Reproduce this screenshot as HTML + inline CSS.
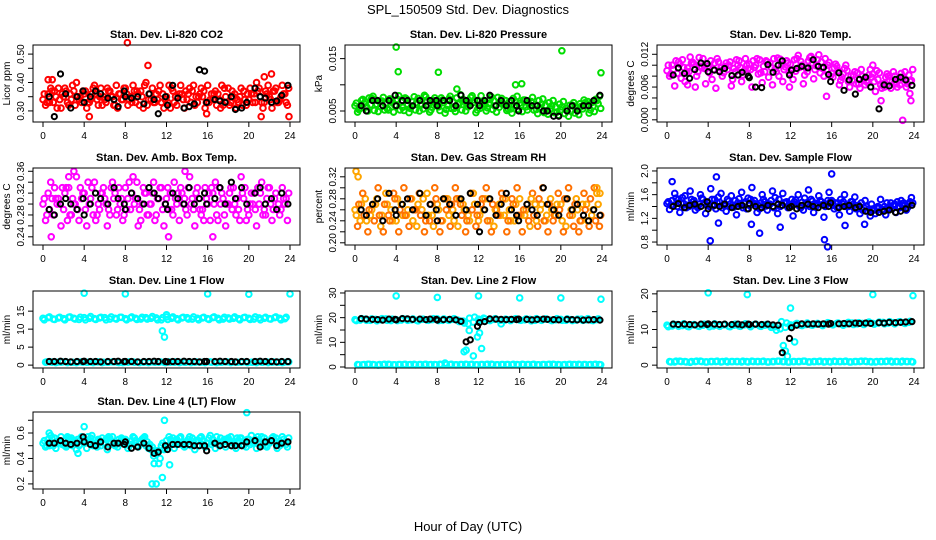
<!DOCTYPE html>
<html><head><meta charset="utf-8"><style>
body{margin:0;background:#fff;}
svg{display:block;font-family:"Liberation Sans",Arial,sans-serif;}
</style></head><body>
<svg id="chart" width="936" height="540" viewBox="0 0 936 540" xmlns="http://www.w3.org/2000/svg">
<rect width="936" height="540" fill="#fff"/>
<text x="468" y="14" text-anchor="middle" font-size="13">SPL_150509  Std. Dev. Diagnostics</text>
<text x="468" y="531" text-anchor="middle" font-size="13">Hour of Day (UTC)</text>
</svg>
<script>
const hoursA=[0,0.5,1,1.5,2,2.5,3,3.5,4,4.5,5,5.5,6,6.5,7,7.5,8,8.5,9,9.5,10,10.5,11,11.5,12,12.5,13,13.5,14,14.5,15,15.5,16,16.5,17,17.5,18,18.5,19,19.5,20,20.5,21,21.5,22,22.5,23,23.5];
const hoursB=[0.25,0.75,1.25,1.75,2.25,2.75,3.25,3.75,4.25,4.75,5.25,5.75,6.25,6.75,7.25,7.75,8.25,8.75,9.25,9.75,10.25,10.75,11.25,11.75,12.25,12.75,13.25,13.75,14.25,14.75,15.25,15.75,16.25,16.75,17.25,17.75,18.25,18.75,19.25,19.75,20.25,20.75,21.25,21.75,22.25,22.75,23.25,23.75];
const hoursC=[0.125,0.625,1.125,1.625,2.125,2.625,3.125,3.625,4.125,4.625,5.125,5.625,6.125,6.625,7.125,7.625,8.125,8.625,9.125,9.625,10.125,10.625,11.125,11.625,12.125,12.625,13.125,13.625,14.125,14.625,15.125,15.625,16.125,16.625,17.125,17.625,18.125,18.625,19.125,19.625,20.125,20.625,21.125,21.625,22.125,22.625,23.125,23.625];
const hoursD=[0.375,0.875,1.375,1.875,2.375,2.875,3.375,3.875,4.375,4.875,5.375,5.875,6.375,6.875,7.375,7.875,8.375,8.875,9.375,9.875,10.375,10.875,11.375,11.875,12.375,12.875,13.375,13.875,14.375,14.875,15.375,15.875,16.375,16.875,17.375,17.875,18.375,18.875,19.375,19.875,20.375,20.875,21.375,21.875,22.375,22.875,23.375,23.875];
const blackHours=[0.6,1.1,1.7,2.2,2.7,3.3,3.9,4.0,4.6,5.1,5.6,6.3,6.9,7.3,7.9,8.0,8.6,9.2,9.8,10.3,10.8,11.2,11.9,12.1,12.6,13.1,13.7,14.2,14.7,15.2,15.7,15.9,16.7,17.2,17.7,18.3,18.7,19.3,19.8,20.6,21.1,21.6,22.2,22.7,23.2,23.8];
const xTicks=[0,4,8,12,16,20,24];

// Panel 1: CO2
const co2A=[0.34,0.36,0.33,0.38,0.35,0.32,0.37,0.34,0.36,0.33,0.39,0.35,0.34,0.37,0.32,0.36,0.38,0.35,0.33,0.37,0.40,0.34,0.36,0.33,0.35,0.38,0.32,0.36,0.34,0.37,0.33,0.35,0.39,0.34,0.36,0.32,0.38,0.35,0.33,0.37,0.34,0.36,0.38,0.33,0.35,0.37,0.34,0.36];
const co2B=[0.32,0.38,0.35,0.31,0.37,0.34,0.40,0.33,0.31,0.36,0.34,0.32,0.38,0.35,0.31,0.34,0.32,0.39,0.36,0.31,0.34,0.33,0.37,0.31,0.39,0.33,0.36,0.31,0.38,0.32,0.36,0.31,0.34,0.37,0.31,0.35,0.33,0.31,0.38,0.32,0.36,0.40,0.33,0.36,0.31,0.33,0.39,0.32];
const co2C=[0.36,0.33,0.37,0.34,0.38,0.36,0.32,0.35,0.37,0.34,0.36,0.38,0.33,0.35,0.39,0.34,0.36,0.33,0.37,0.35,0.32,0.38,0.34,0.36,0.33,0.37,0.35,0.34,0.36,0.39,0.35,0.37,0.33,0.36,0.34,0.38,0.32,0.36,0.35,0.34,0.38,0.33,0.35,0.37,0.34,0.38,0.35,0.33];
const co2D=[0.33,0.37,0.31,0.36,0.33,0.39,0.35,0.37,0.33,0.38,0.32,0.35,0.37,0.32,0.36,0.38,0.34,0.37,0.32,0.39,0.36,0.33,0.39,0.34,0.31,0.35,0.39,0.37,0.33,0.35,0.38,0.33,0.36,0.32,0.39,0.33,0.37,0.34,0.32,0.36,0.33,0.37,0.31,0.39,0.37,0.33,0.36,0.38];
const co2XH=[8.2,10.2,21.2,21.5,22.2,23.9,4.5,15.9,0.5,0.9];
const co2XV=[0.54,0.46,0.28,0.42,0.43,0.28,0.28,0.29,0.41,0.41];
const co2K=[0.35,0.28,0.43,0.36,0.31,0.35,0.37,0.33,0.35,0.37,0.36,0.345,0.34,0.315,0.37,0.35,0.345,0.35,0.325,0.36,0.34,0.29,0.35,0.32,0.39,0.345,0.31,0.315,0.325,0.445,0.44,0.33,0.34,0.335,0.33,0.35,0.305,0.31,0.33,0.38,0.35,0.345,0.33,0.335,0.355,0.39];
const co2Ticks=[0.30,0.35,0.40,0.45,0.50];
const co2Labels=["0.30","","0.40","","0.50"];

// Panel 2: Pressure
const prA=[0.0060,0.0055,0.0068,0.0062,0.0071,0.0058,0.0065,0.0070,0.0061,0.0067,0.0073,0.0059,0.0066,0.0062,0.0069,0.0057,0.0064,0.0071,0.0060,0.0068,0.0063,0.0072,0.0058,0.0066,0.0061,0.0069,0.0064,0.0070,0.0057,0.0063,0.0068,0.0060,0.0065,0.0071,0.0059,0.0062,0.0056,0.0061,0.0054,0.0058,0.0052,0.0055,0.0050,0.0056,0.0059,0.0062,0.0066,0.0070];
const prB=[0.0048,0.0072,0.0050,0.0078,0.0049,0.0076,0.0052,0.0048,0.0079,0.0051,0.0047,0.0077,0.0050,0.0080,0.0048,0.0075,0.0051,0.0046,0.0078,0.0049,0.0081,0.0050,0.0076,0.0047,0.0079,0.0050,0.0077,0.0048,0.0074,0.0051,0.0046,0.0078,0.0049,0.0052,0.0076,0.0045,0.0073,0.0044,0.0070,0.0042,0.0068,0.0040,0.0066,0.0043,0.0071,0.0046,0.0049,0.0078];
const prC=[0.0065,0.0070,0.0058,0.0074,0.0063,0.0069,0.0055,0.0066,0.0072,0.0057,0.0063,0.0068,0.0074,0.0054,0.0061,0.0070,0.0058,0.0066,0.0073,0.0055,0.0064,0.0069,0.0062,0.0071,0.0055,0.0063,0.0072,0.0059,0.0066,0.0070,0.0054,0.0067,0.0061,0.0058,0.0068,0.0053,0.0063,0.0050,0.0060,0.0048,0.0058,0.0050,0.0061,0.0052,0.0054,0.0068,0.0059,0.0064];
const prD=[0.0053,0.0064,0.0075,0.0051,0.0068,0.0052,0.0073,0.0061,0.0052,0.0075,0.0055,0.0052,0.0061,0.0077,0.0052,0.0062,0.0075,0.0053,0.0055,0.0075,0.0052,0.0060,0.0079,0.0052,0.0066,0.0056,0.0053,0.0076,0.0062,0.0054,0.0074,0.0053,0.0071,0.0064,0.0052,0.0070,0.0047,0.0066,0.0047,0.0063,0.0045,0.0061,0.0046,0.0064,0.0066,0.0052,0.0072,0.0055];
const prXH=[4.0,4.2,8.1,9.9,15.6,16.2,20.1,23.9];
const prXV=[0.0172,0.0125,0.0124,0.0092,0.0100,0.0102,0.0165,0.0123];
const prK=[0.006,0.005,0.007,0.007,0.006,0.007,0.008,0.006,0.007,0.007,0.006,0.007,0.006,0.007,0.007,0.006,0.007,0.007,0.006,0.008,0.007,0.006,0.007,0.006,0.007,0.008,0.006,0.007,0.006,0.007,0.006,0.005,0.007,0.006,0.006,0.005,0.005,0.004,0.004,0.005,0.006,0.005,0.006,0.006,0.007,0.008];
const prTicks=[0.005,0.010,0.015];
const prLabels=["0.005","","0.015"];

// Panel 3: Li-820 Temp
const tmA=[0.0090,0.0100,0.0085,0.0110,0.0095,0.0105,0.0088,0.0112,0.0098,0.0092,0.0106,0.0086,0.0100,0.0094,0.0108,0.0090,0.0102,0.0096,0.0110,0.0088,0.0104,0.0093,0.0111,0.0097,0.0102,0.0089,0.0107,0.0095,0.0116,0.0099,0.0106,0.0092,0.0085,0.0098,0.0078,0.0090,0.0072,0.0086,0.0080,0.0068,0.0084,0.0074,0.0066,0.0080,0.0088,0.0072,0.0078,0.0082];
const tmB=[0.0080,0.0062,0.0102,0.0070,0.0115,0.0060,0.0098,0.0066,0.0108,0.0058,0.0095,0.0104,0.0062,0.0110,0.0070,0.0100,0.0060,0.0112,0.0068,0.0106,0.0064,0.0113,0.0070,0.0104,0.0074,0.0118,0.0066,0.0108,0.0075,0.0119,0.0080,0.0105,0.0095,0.0064,0.0094,0.0060,0.0088,0.0058,0.0064,0.0092,0.0052,0.0064,0.0078,0.0058,0.0066,0.0085,0.0060,0.0072];
const tmC=[0.0100,0.0092,0.0106,0.0096,0.0088,0.0102,0.0114,0.0094,0.0086,0.0104,0.0090,0.0098,0.0106,0.0088,0.0096,0.0112,0.0092,0.0100,0.0086,0.0108,0.0096,0.0088,0.0100,0.0108,0.0090,0.0112,0.0100,0.0088,0.0104,0.0110,0.0094,0.0100,0.0078,0.0090,0.0084,0.0070,0.0082,0.0066,0.0074,0.0082,0.0070,0.0086,0.0060,0.0072,0.0080,0.0064,0.0088,0.0070];
const tmD=[0.0084,0.0108,0.0076,0.0088,0.0104,0.0080,0.0096,0.0102,0.0074,0.0112,0.0080,0.0092,0.0074,0.0100,0.0082,0.0094,0.0108,0.0084,0.0098,0.0078,0.0112,0.0080,0.0092,0.0086,0.0110,0.0096,0.0082,0.0114,0.0092,0.0086,0.0112,0.0080,0.0102,0.0072,0.0100,0.0080,0.0066,0.0092,0.0070,0.0078,0.0090,0.0058,0.0084,0.0070,0.0060,0.0076,0.0066,0.0092];
const tmXH=[15.5,20.0,20.8,22.9,23.6,23.7,2.0,11.9];
const tmXV=[0.0043,0.0100,0.0035,-0.0001,0.0048,0.0035,0.0064,0.0060];
const tmK=[0.0082,0.0095,0.0085,0.0076,0.0092,0.0104,0.0103,0.0088,0.0091,0.0088,0.0094,0.0081,0.0082,0.0087,0.0080,0.0077,0.0060,0.0059,0.0101,0.0087,0.0100,0.0108,0.0082,0.0091,0.0094,0.0098,0.0095,0.0110,0.0098,0.0096,0.0083,0.0070,0.0086,0.0054,0.0073,0.0047,0.0074,0.0078,0.0060,0.0020,0.0064,0.0062,0.0074,0.0078,0.0073,0.0063];
const tmTicks=[0,0.002,0.004,0.006,0.008,0.010,0.012];
const tmLabels=["0.000","","","0.006","","","0.012"];

// Panel 4: Amb box temp
const abA=[0.30,0.32,0.28,0.31,0.29,0.33,0.30,0.27,0.32,0.30,0.34,0.29,0.31,0.28,0.32,0.30,0.33,0.29,0.31,0.27,0.32,0.30,0.28,0.33,0.31,0.29,0.30,0.32,0.28,0.31,0.33,0.29,0.30,0.32,0.27,0.31,0.30,0.33,0.29,0.31,0.28,0.32,0.30,0.29,0.33,0.31,0.28,0.30];
const abB=[0.27,0.34,0.31,0.26,0.33,0.28,0.35,0.31,0.26,0.33,0.28,0.32,0.26,0.34,0.29,0.27,0.31,0.35,0.26,0.33,0.28,0.34,0.31,0.26,0.29,0.34,0.27,0.31,0.35,0.26,0.29,0.33,0.27,0.34,0.30,0.26,0.33,0.28,0.35,0.27,0.32,0.26,0.34,0.31,0.27,0.29,0.33,0.27];
const abC=[0.31,0.29,0.33,0.30,0.32,0.28,0.30,0.33,0.29,0.31,0.27,0.32,0.30,0.33,0.28,0.31,0.29,0.32,0.34,0.30,0.28,0.32,0.31,0.29,0.33,0.28,0.32,0.30,0.33,0.29,0.31,0.27,0.32,0.30,0.33,0.28,0.32,0.30,0.27,0.33,0.30,0.29,0.32,0.28,0.30,0.32,0.29,0.31];
const abD=[0.28,0.31,0.30,0.33,0.27,0.31,0.29,0.32,0.34,0.28,0.30,0.33,0.29,0.31,0.33,0.28,0.34,0.30,0.29,0.32,0.30,0.27,0.33,0.30,0.32,0.31,0.33,0.29,0.30,0.32,0.28,0.31,0.33,0.28,0.32,0.30,0.29,0.31,0.32,0.29,0.30,0.33,0.28,0.33,0.29,0.30,0.31,0.32];
const abXH=[0.8,2.5,3.0,12.2,13.8,16.5];
const abXV=[0.24,0.35,0.36,0.24,0.36,0.24];
const abK=[0.29,0.28,0.30,0.31,0.30,0.29,0.31,0.28,0.30,0.32,0.31,0.30,0.33,0.31,0.30,0.29,0.32,0.31,0.30,0.33,0.32,0.31,0.30,0.29,0.32,0.31,0.30,0.33,0.30,0.31,0.32,0.30,0.31,0.33,0.30,0.34,0.31,0.33,0.30,0.32,0.33,0.30,0.31,0.29,0.32,0.30];
const abTicks=[0.24,0.26,0.28,0.30,0.32,0.34,0.36];
const abLabels=["0.24","","0.28","","0.32","","0.36"];

// Panel 5: Gas stream RH
const rhA=[0.26,0.24,0.28,0.25,0.27,0.23,0.29,0.26,0.24,0.27,0.25,0.28,0.23,0.26,0.29,0.25,0.27,0.24,0.28,0.26,0.23,0.27,0.25,0.29,0.24,0.26,0.28,0.23,0.27,0.25,0.26,0.24,0.28,0.25,0.23,0.27,0.26,0.24,0.28,0.25,0.27,0.23,0.26,0.28,0.24,0.27,0.25,0.29];
const rhB=[0.23,0.29,0.22,0.27,0.30,0.22,0.25,0.29,0.22,0.30,0.23,0.26,0.29,0.22,0.24,0.30,0.22,0.28,0.23,0.30,0.27,0.22,0.29,0.23,0.27,0.30,0.22,0.26,0.29,0.22,0.28,0.30,0.22,0.27,0.29,0.23,0.30,0.22,0.24,0.29,0.22,0.30,0.23,0.22,0.29,0.23,0.30,0.23];
const rhC=[0.25,0.27,0.24,0.26,0.28,0.25,0.27,0.24,0.28,0.25,0.26,0.24,0.27,0.28,0.25,0.23,0.26,0.28,0.25,0.24,0.28,0.26,0.24,0.27,0.25,0.28,0.24,0.26,0.25,0.28,0.24,0.27,0.25,0.26,0.28,0.24,0.27,0.25,0.26,0.27,0.24,0.28,0.25,0.26,0.27,0.24,0.26,0.27];
const rhD=[0.27,0.25,0.26,0.24,0.25,0.27,0.24,0.28,0.26,0.25,0.28,0.26,0.25,0.24,0.27,0.28,0.24,0.26,0.27,0.28,0.25,0.24,0.26,0.25,0.28,0.24,0.27,0.25,0.28,0.24,0.27,0.25,0.26,0.24,0.25,0.28,0.24,0.27,0.25,0.26,0.28,0.25,0.27,0.24,0.26,0.28,0.24,0.25];
const rhXH=[0.1,0.3,23.5,23.8];
const rhXV=[0.33,0.32,0.30,0.29];
const rhK=[0.26,0.25,0.27,0.28,0.24,0.29,0.26,0.25,0.27,0.28,0.26,0.29,0.25,0.27,0.26,0.24,0.28,0.27,0.25,0.28,0.26,0.29,0.27,0.22,0.26,0.28,0.25,0.27,0.29,0.26,0.25,0.24,0.27,0.26,0.25,0.30,0.27,0.26,0.25,0.28,0.26,0.27,0.25,0.24,0.26,0.25];
const rhTicks=[0.20,0.22,0.24,0.26,0.28,0.30,0.32];
const rhLabels=["0.20","","0.24","","0.28","","0.32"];

// Panel 6: Sample flow
const sfA=[1.45,1.50,1.40,1.55,1.42,1.48,1.38,1.52,1.46,1.41,1.56,1.44,1.49,1.39,1.53,1.45,1.42,1.50,1.36,1.48,1.44,1.55,1.40,1.47,1.43,1.51,1.38,1.46,1.52,1.41,1.48,1.44,1.50,1.39,1.45,1.42,1.48,1.38,1.34,1.32,1.36,1.40,1.35,1.38,1.42,1.40,1.46,1.44];
const sfB=[1.35,1.62,1.30,1.58,1.66,1.34,1.60,1.28,1.70,1.36,1.62,1.32,1.58,1.26,1.64,1.36,1.72,1.30,1.60,1.34,1.66,1.28,1.62,1.38,1.24,1.60,1.34,1.68,1.30,1.58,1.22,1.64,1.36,1.26,1.60,1.32,1.56,1.28,1.50,1.24,1.28,1.52,1.26,1.46,1.30,1.50,1.34,1.55];
const sfC=[1.48,1.42,1.52,1.45,1.40,1.50,1.44,1.46,1.40,1.52,1.47,1.41,1.44,1.50,1.43,1.48,1.52,1.44,1.46,1.41,1.50,1.46,1.42,1.48,1.52,1.44,1.47,1.42,1.49,1.45,1.43,1.50,1.42,1.46,1.48,1.40,1.44,1.42,1.38,1.36,1.34,1.38,1.40,1.36,1.44,1.38,1.42,1.48];
const sfD=[1.42,1.54,1.46,1.38,1.52,1.40,1.54,1.42,1.52,1.46,1.38,1.52,1.42,1.46,1.38,1.54,1.46,1.42,1.52,1.44,1.38,1.52,1.46,1.40,1.48,1.40,1.54,1.40,1.44,1.50,1.40,1.48,1.46,1.52,1.40,1.48,1.36,1.46,1.40,1.44,1.38,1.34,1.46,1.36,1.48,1.42,1.38,1.46];
const sfXH=[0.5,4.2,4.8,5.0,8.2,9.0,11.0,15.3,15.6,16.0,17.3,19.2];
const sfXV=[1.82,0.82,1.90,1.12,1.10,0.95,1.05,0.84,0.72,1.95,1.08,1.10];
const sfK=[1.40,1.45,1.38,1.42,1.44,1.40,1.48,1.36,1.42,1.40,1.44,1.38,1.40,1.42,1.36,1.45,1.40,1.38,1.42,1.40,1.44,1.42,1.38,1.40,1.36,1.42,1.44,1.40,1.38,1.42,1.40,1.46,1.38,1.40,1.42,1.38,1.40,1.32,1.30,1.30,1.32,1.34,1.30,1.32,1.36,1.42];
const sfTicks=[0.8,1.0,1.2,1.4,1.6,1.8,2.0];
const sfLabels=["0.8","","1.2","","1.6","","2.0"];

// Panel 7: Line 1 flow
const l1A=[13.0,13.2,12.8,13.1,12.9,13.3,13.0,12.7,13.2,13.0,12.9,13.1,13.2,12.8,13.0,13.3,12.9,13.1,13.0,12.8,13.2,13.0,13.1,12.6,13.4,13.0,12.9,13.1,13.2,12.8,13.0,13.1,12.9,13.2,13.0,12.8,13.1,13.0,12.9,13.2,13.0,12.8,13.1,13.0,12.9,13.2,13.0,12.9];
const l1B=[0.8,0.9,0.7,0.8,0.9,0.8,0.7,0.9,0.8,0.8,0.9,0.7,0.8,0.9,0.8,0.7,0.8,0.9,0.8,0.8,0.7,0.9,0.8,0.8,0.9,0.8,0.7,0.8,0.9,0.8,0.8,0.7,0.9,0.8,0.8,0.9,0.7,0.8,0.8,0.9,0.8,0.7,0.8,0.9,0.8,0.8,0.7,0.9];
const l1C=[12.6,13.4,12.7,13.3,12.6,13.4,12.8,13.3,12.6,13.5,12.7,13.3,12.6,13.4,12.8,13.3,12.6,13.4,12.7,13.3,12.8,13.5,12.6,13.2,12.7,13.4,12.6,13.3,12.8,13.4,12.6,13.3,12.7,13.4,12.6,13.3,12.8,13.4,12.6,13.3,12.7,13.4,12.6,13.3,12.8,13.4,12.6,13.3];
const l1D=[0.9,0.8,0.8,0.9,0.7,0.8,0.9,0.8,0.8,0.7,0.9,0.8,0.8,0.9,0.7,0.8,0.9,0.8,0.7,0.9,0.8,0.8,0.9,0.7,0.8,0.9,0.8,0.8,0.7,0.9,0.8,0.9,0.8,0.7,0.8,0.9,0.8,0.8,0.9,0.7,0.8,0.9,0.8,0.7,0.9,0.8,0.8,0.9];
const l1XH=[4.0,8.0,11.6,11.8,12.0,16.0,20.0,24.0];
const l1XV=[20.0,19.8,9.5,7.8,14.0,19.8,19.7,19.8];
const l1K=[1.0,1.0,1.1,1.0,0.9,1.0,1.0,1.1,1.0,1.0,0.9,1.0,1.0,1.1,1.0,1.0,1.0,0.9,1.0,1.0,1.1,1.0,1.0,0.9,1.0,1.0,1.1,1.0,1.0,0.9,1.0,1.0,1.0,1.1,1.0,1.0,0.9,1.0,1.0,1.0,1.1,1.0,1.0,0.9,1.0,1.0];
const l1Ticks=[0,5,10,15];
const l1Labels=["0","5","10","15"];

// Panel 8: Line 2 flow
const l2A=[19.2,19.0,19.4,18.9,19.3,19.1,19.5,18.8,19.2,19.0,19.4,19.1,18.9,19.3,19.0,19.2,19.5,18.9,19.1,19.3,19.0,18.6,17.5,18.2,19.4,19.8,19.0,19.3,19.1,18.9,19.2,19.4,19.0,19.1,19.3,18.9,19.2,19.5,19.0,19.1,19.3,18.9,19.2,19.0,19.4,19.1,18.9,19.2];
const l2B=[1.0,0.9,1.1,1.0,0.8,1.0,1.1,0.9,1.0,1.0,0.9,1.1,1.0,1.0,0.9,1.0,1.1,1.6,1.0,0.9,1.0,1.1,1.0,0.9,1.0,1.0,1.1,0.9,1.0,1.0,0.9,1.0,1.1,1.0,1.0,0.9,1.0,1.0,1.1,1.0,0.9,1.0,1.0,1.1,1.0,0.9,1.0,1.0];
const l2C=[18.8,19.6,18.9,19.5,18.7,19.6,18.9,19.4,18.8,19.6,18.9,19.5,18.7,19.4,18.9,19.6,18.8,19.5,18.9,19.6,18.4,17.8,19.8,20.2,18.9,19.5,18.8,19.6,18.9,19.4,18.8,19.6,18.9,19.5,18.7,19.6,18.9,19.4,18.8,19.6,18.9,19.5,18.8,19.4,18.9,19.6,18.8,19.5];
const l2D=[0.9,1.0,1.1,0.9,1.0,1.1,1.0,0.9,1.0,1.1,1.0,0.9,1.0,1.1,1.0,0.9,1.0,1.0,1.1,0.9,1.0,1.0,1.1,0.9,1.0,1.1,1.0,0.9,1.0,1.0,1.1,0.9,1.0,1.0,1.1,0.9,1.0,1.1,1.0,0.9,1.0,1.1,1.0,0.9,1.0,1.0,1.1,0.9];
const l2XH=[4.0,8.0,10.6,10.8,11.1,11.5,11.9,12.0,12.1,12.3,14.2,16.0,20.0,23.9];
const l2XV=[28.8,28.2,6.2,6.8,14.8,4.5,12.2,28.8,13.8,7.5,17.5,28.0,28.0,27.5];
const l2K=[19.6,19.4,19.3,19.2,19.0,19.4,19.3,19.1,19.6,19.5,19.3,19.4,19.2,19.4,19.3,19.0,19.2,19.3,19.1,18.5,10.2,11.0,16.5,18.0,18.4,19.5,19.4,19.3,19.2,19.3,19.2,19.4,19.3,19.1,19.3,19.4,19.3,19.2,19.1,19.3,19.2,19.1,19.0,19.1,19.2,19.0];
const l2Ticks=[0,5,10,15,20,25,30];
const l2Labels=["0","","10","","20","","30"];

// Panel 9: Line 3 flow
const l3A=[11.2,11.0,11.4,11.1,10.9,11.3,11.0,11.2,11.4,11.0,11.1,11.3,10.9,11.2,11.0,11.3,11.1,11.4,11.0,11.2,11.1,10.8,10.2,10.6,11.3,11.5,11.2,11.4,11.3,11.5,11.4,11.6,11.5,11.7,11.5,11.6,11.8,11.6,11.7,11.9,11.7,11.8,12.0,11.8,11.9,12.1,11.9,12.0];
const l3B=[1.0,0.9,1.1,1.0,0.8,1.0,1.1,0.9,1.0,1.0,0.9,1.1,1.0,1.0,0.9,1.0,1.1,1.0,1.0,0.9,1.0,1.1,1.0,0.9,1.0,1.0,1.1,0.9,1.0,1.0,0.9,1.0,1.1,1.0,1.0,0.9,1.0,1.0,1.1,1.0,0.9,1.0,1.0,1.1,1.0,0.9,1.0,1.0];
const l3C=[10.8,11.5,10.9,11.6,10.8,11.4,10.9,11.5,10.8,11.6,10.9,11.4,10.8,11.5,10.9,11.6,10.8,11.5,10.9,11.4,10.6,9.8,12.2,11.8,11.0,11.7,11.1,11.8,11.2,11.7,11.1,11.9,11.3,11.8,11.2,12.0,11.4,11.9,11.4,12.1,11.5,12.1,11.6,12.2,11.6,12.2,11.7,12.3];
const l3D=[0.9,1.1,1.0,0.9,1.0,1.1,1.0,0.9,1.0,1.1,1.0,0.9,1.0,1.0,1.1,0.9,1.0,1.0,1.1,0.9,1.0,1.1,1.0,0.9,1.0,1.0,1.1,0.9,1.0,1.1,1.0,0.9,1.0,1.0,1.1,0.9,1.0,1.1,1.0,0.9,1.0,1.0,1.1,0.9,1.0,1.1,1.0,0.9];
const l3XH=[4.0,7.8,11.3,11.5,11.7,12.0,12.4,20.0,23.9];
const l3XV=[20.3,19.8,5.5,4.0,2.5,16.0,6.5,19.8,19.5];
const l3K=[11.5,11.4,11.5,11.4,11.3,11.5,11.4,11.6,11.5,11.4,11.5,11.4,11.5,11.3,11.5,11.4,11.5,11.4,11.5,11.3,11.2,3.5,7.5,10.5,11.2,11.6,11.5,11.6,11.5,11.6,11.5,11.7,11.6,11.7,11.6,11.8,11.7,11.8,11.7,11.9,11.8,12.0,11.9,12.0,12.1,12.2];
const l3Ticks=[0,5,10,15,20];
const l3Labels=["0","","10","","20"];

// Panel 10: Line 4 (LT) flow
const l4A=[0.52,0.55,0.50,0.54,0.51,0.56,0.52,0.50,0.55,0.53,0.51,0.54,0.52,0.56,0.50,0.53,0.55,0.51,0.54,0.52,0.50,0.47,0.44,0.50,0.54,0.52,0.55,0.51,0.53,0.56,0.50,0.54,0.52,0.55,0.51,0.53,0.56,0.52,0.54,0.50,0.55,0.53,0.51,0.56,0.52,0.54,0.50,0.53];
const l4B=[0.49,0.58,0.48,0.57,0.49,0.56,0.47,0.57,0.48,0.58,0.49,0.56,0.47,0.57,0.49,0.55,0.48,0.57,0.49,0.56,0.48,0.42,0.36,0.47,0.57,0.48,0.56,0.49,0.57,0.47,0.56,0.49,0.58,0.48,0.56,0.49,0.57,0.48,0.56,0.49,0.58,0.48,0.57,0.49,0.56,0.48,0.57,0.49];
const l4C=[0.54,0.50,0.56,0.53,0.50,0.55,0.54,0.51,0.53,0.56,0.52,0.50,0.55,0.53,0.51,0.56,0.52,0.54,0.50,0.55,0.53,0.49,0.46,0.52,0.50,0.56,0.53,0.50,0.55,0.52,0.54,0.51,0.56,0.52,0.50,0.55,0.53,0.51,0.56,0.53,0.51,0.55,0.52,0.50,0.54,0.56,0.52,0.51];
const l4D=[0.50,0.56,0.52,0.51,0.57,0.50,0.55,0.53,0.57,0.50,0.55,0.52,0.57,0.51,0.55,0.52,0.50,0.56,0.52,0.57,0.51,0.45,0.40,0.48,0.55,0.51,0.57,0.53,0.50,0.54,0.57,0.52,0.51,0.57,0.53,0.55,0.50,0.56,0.51,0.55,0.52,0.57,0.50,0.53,0.57,0.51,0.55,0.56];
const l4XH=[4.0,3.4,10.6,10.8,11.0,11.6,11.8,12.3,19.8,0.6];
const l4XV=[0.65,0.44,0.20,0.36,0.20,0.25,0.70,0.35,0.76,0.60];
const l4K=[0.52,0.52,0.54,0.52,0.51,0.52,0.57,0.53,0.51,0.50,0.53,0.49,0.52,0.52,0.51,0.53,0.48,0.49,0.52,0.48,0.44,0.45,0.50,0.47,0.51,0.51,0.51,0.51,0.50,0.50,0.50,0.46,0.52,0.50,0.51,0.50,0.50,0.50,0.53,0.54,0.49,0.53,0.54,0.50,0.52,0.53];
const l4Ticks=[0.2,0.3,0.4,0.5,0.6,0.7];
const l4Labels=["0.2","","0.4","","0.6",""];

const panels=[
 {name:"co2",title:"Stan. Dev. Li-820 CO2",ylab:"Licor ppm",col:0,row:0,ymin:0.261,ymax:0.532,color:"#ff0000",colorB:"#ff0000",S:[co2A,co2B,co2C,co2D],XH:co2XH,XV:co2XV,K:co2K,ticks:co2Ticks,labels:co2Labels},
 {name:"pressure",title:"Stan. Dev. Li-820 Pressure",ylab:"kPa",col:1,row:0,ymin:0.0029,ymax:0.0176,color:"#00dd00",colorB:"#00dd00",S:[prA,prB,prC,prD],XH:prXH,XV:prXV,K:prK,ticks:prTicks,labels:prLabels},
 {name:"li820-temp",title:"Stan. Dev. Li-820 Temp.",ylab:"degrees C",col:2,row:0,ymin:-0.0004,ymax:0.0137,color:"#ff00ff",colorB:"#ff00ff",S:[tmA,tmB,tmC,tmD],XH:tmXH,XV:tmXV,K:tmK,ticks:tmTicks,labels:tmLabels},
 {name:"amb-box-temp",title:"Stan. Dev. Amb. Box Temp.",ylab:"degrees C",col:0,row:1,ymin:0.225,ymax:0.366,color:"#ff00ff",colorB:"#ff00ff",S:[abA,abB,abC,abD],XH:abXH,XV:abXV,K:abK,ticks:abTicks,labels:abLabels},
 {name:"gas-stream-rh",title:"Stan. Dev. Gas Stream RH",ylab:"percent",col:1,row:1,ymin:0.196,ymax:0.336,color:"#ffa500",colorB:"#ff7000",S:[rhA,rhB,rhC,rhD],XH:rhXH,XV:rhXV,K:rhK,ticks:rhTicks,labels:rhLabels},
 {name:"sample-flow",title:"Stan. Dev. Sample Flow",ylab:"ml/min",col:2,row:1,ymin:0.75,ymax:2.05,color:"#0000ff",colorB:"#0000ff",S:[sfA,sfB,sfC,sfD],XH:sfXH,XV:sfXV,K:sfK,ticks:sfTicks,labels:sfLabels},
 {name:"line1-flow",title:"Stan. Dev. Line 1 Flow",ylab:"ml/min",col:0,row:2,ymin:-0.8,ymax:20.6,color:"#00ffff",colorB:"#00ffff",S:[l1A,l1B,l1C,l1D],XH:l1XH,XV:l1XV,K:l1K,ticks:l1Ticks,labels:l1Labels},
 {name:"line2-flow",title:"Stan. Dev. Line 2 Flow",ylab:"ml/min",col:1,row:2,ymin:-0.4,ymax:30.8,color:"#00ffff",colorB:"#00ffff",S:[l2A,l2B,l2C,l2D],XH:l2XH,XV:l2XV,K:l2K,ticks:l2Ticks,labels:l2Labels},
 {name:"line3-flow",title:"Stan. Dev. Line 3 Flow",ylab:"ml/min",col:2,row:2,ymin:-0.8,ymax:20.8,color:"#00ffff",colorB:"#00ffff",S:[l3A,l3B,l3C,l3D],XH:l3XH,XV:l3XV,K:l3K,ticks:l3Ticks,labels:l3Labels},
 {name:"line4-flow",title:"Stan. Dev. Line 4 (LT) Flow",ylab:"ml/min",col:0,row:3,ymin:0.16,ymax:0.765,color:"#00ffff",colorB:"#00ffff",S:[l4A,l4B,l4C,l4D],XH:l4XH,XV:l4XV,K:l4K,ticks:l4Ticks,labels:l4Labels}
];
const seriesHours=[hoursA,hoursB,hoursC,hoursD];

const NS="http://www.w3.org/2000/svg";
const svg=document.getElementById('chart');
const rowTops=[45,168,291,412];
function mk(tag,attrs,parent){const e=document.createElementNS(NS,tag);for(const k in attrs)e.setAttribute(k,attrs[k]);parent.appendChild(e);return e;}

panels.forEach(p=>{
  const L=33+p.col*312, R=L+267, T=rowTops[p.row], B=T+77;
  const xs=h=>L+10+h*(247/24);
  const ys=v=>B-(v-p.ymin)/(p.ymax-p.ymin)*(B-T);
  const g=mk('g',{},svg);
  
  
  const t=mk('text',{x:(L+R)/2,y:T-7,'text-anchor':'middle','font-size':'11','font-weight':'bold'},g);
  t.textContent=p.title;
  
  
  const xa=mk('g',{},g);
  
  
  mk('line',{x1:xs(0),x2:xs(24),y1:B,y2:B,stroke:'#000'},xa);
  xTicks.forEach(h=>{
    mk('line',{x1:xs(h),x2:xs(h),y1:B,y2:B+5,stroke:'#000'},xa);
    const lt=mk('text',{x:xs(h),y:B+17,'text-anchor':'middle','font-size':'10'},xa);
    lt.textContent=h;
    
    
  });
  const ya=mk('g',{},g);
  
  
  p.ticks.forEach((v,i)=>{
    const y=ys(v);
    mk('line',{x1:L-5,x2:L,y1:y,y2:y,stroke:'#000'},ya);
    if(p.labels[i]){
      const lt=mk('text',{x:L-9,y:y,'text-anchor':'middle','font-size':'10',transform:`rotate(-90 ${L-9} ${y})`},ya);
      lt.textContent=p.labels[i];
      
      
    }
  });
  const yl=mk('text',{x:L-23,y:(T+B)/2,'text-anchor':'middle','font-size':'10',transform:`rotate(-90 ${L-23} ${(T+B)/2})`},g);
  yl.textContent=p.ylab;
  
  
  const pts=mk('g',{fill:'none','stroke-width':'2'},g);
  
  
  p.S.forEach((vals,si)=>{
    const hrs=seriesHours[si];
    const n=Math.min(vals.length,hrs.length);
    for(let i=0;i<n;i++){
      const c=mk('circle',{cx:xs(hrs[i]),cy:ys(vals[i]),r:2.8,stroke:(si%2?p.colorB:p.color)},pts);
      
      
    }
  });
  for(let i=0;i<p.XH.length;i++){
    const c=mk('circle',{cx:xs(p.XH[i]),cy:ys(p.XV[i]),r:2.8,stroke:p.color},pts);
    
    
  }
  const nk=Math.min(p.K.length,blackHours.length);
  for(let i=0;i<nk;i++){
    const c=mk('circle',{cx:xs(blackHours[i]),cy:ys(p.K[i]),r:2.6,stroke:'#000'},pts);
    
    
  }
  const box=mk('rect',{x:L,y:T,width:R-L,height:B-T,fill:'none',stroke:'#000'},g);
  
  
});
</script>
</body></html>
